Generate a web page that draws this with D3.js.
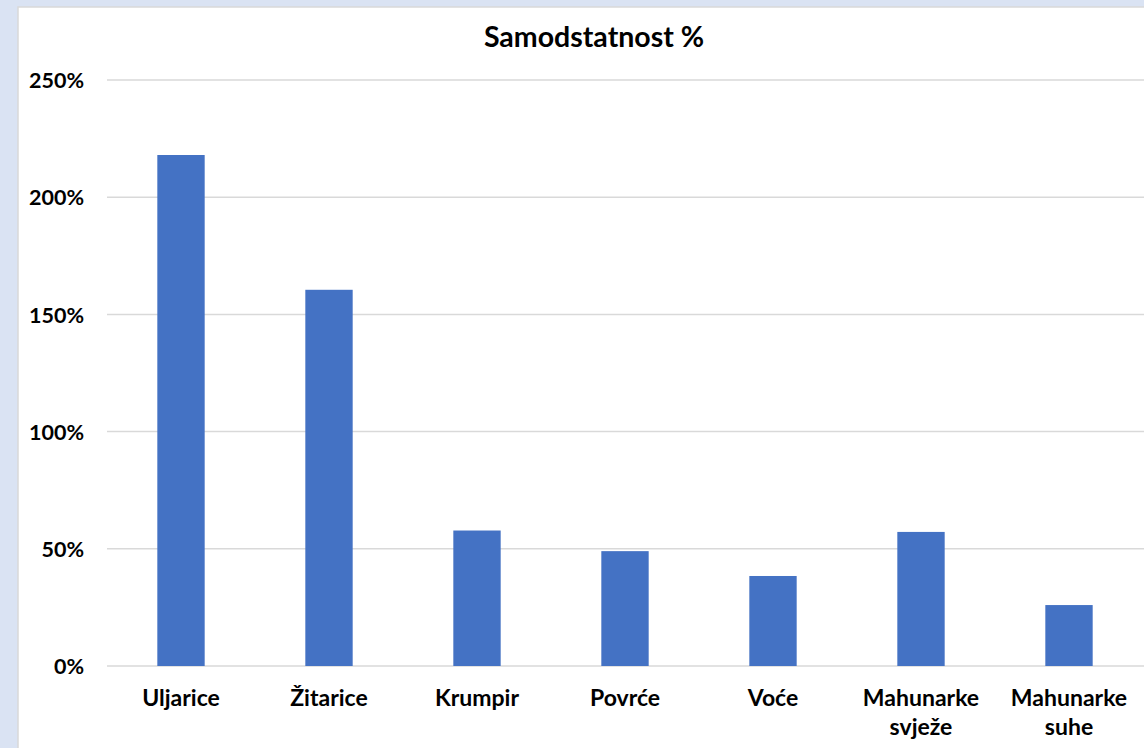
<!DOCTYPE html>
<html><head><meta charset="utf-8">
<script src="https://cdn.jsdelivr.net/npm/d3@7"></script>
<style>html,body{margin:0;padding:0;background:#dae3f3;overflow:hidden}</style>
</head><body>
<svg id="c" width="1144" height="748"></svg>
<script>
const categories = [["Uljarice"],["Žitarice"],["Krumpir"],["Povrće"],["Voće"],["Mahunarke","svježe"],["Mahunarke","suhe"]];
const values = [2.18, 1.605, 0.578, 0.49, 0.384, 0.572, 0.26];
const ticks = [0, 0.5, 1, 1.5, 2, 2.5];
const title = "Samodstatnost %";

const svg = d3.select("#c");
const font = "Lato, 'Open Sans', sans-serif";
svg.append("rect").attr("x",18).attr("y",7).attr("width",1140).attr("height",760)
  .attr("fill","#fff").attr("stroke","#d9d9d9").attr("stroke-width",1.5);

const x = d3.scaleBand().domain(categories.map((d,i)=>i)).range([107,1143]).paddingInner(0.68).paddingOuter(0.34);
const y = d3.scaleLinear().domain([0,2.5]).range([666,80]);

const g = svg.append("g");
g.selectAll("line.grid").data(ticks).join("line")
  .attr("x1",107).attr("x2",1144).attr("y1",d=>y(d)).attr("y2",d=>y(d))
  .attr("stroke","#d9d9d9").attr("stroke-width",1.5);

g.selectAll("rect.bar").data(values).join("rect")
  .attr("x",(d,i)=>x(i)).attr("width",x.bandwidth())
  .attr("y",d=>y(d)).attr("height",d=>y(0)-y(d)).attr("fill","#4472c4");

const yAxis = d3.axisLeft(y).tickValues(ticks).tickFormat(d=>Math.round(d*100)+"%").tickSize(0).tickPadding(0);
const ya = svg.append("g").attr("transform","translate(84,0)").call(yAxis);
ya.select(".domain").remove();
ya.selectAll("text").attr("font-family",font).attr("font-weight","bold").attr("font-size",21.5).attr("fill","#000").attr("dy","0.36em");

const xl = svg.append("g");
categories.forEach((lines,i)=>{
  const cx = x(i)+x.bandwidth()/2;
  const t = xl.append("text").attr("text-anchor","middle").attr("font-family",font)
    .attr("font-weight","bold").attr("font-size",23).attr("fill","#000");
  lines.forEach((l,j)=>t.append("tspan").attr("x",cx).attr("y",706+j*29).text(l));
});

svg.append("text").attr("x",594).attr("y",47).attr("text-anchor","middle")
  .attr("font-family",font).attr("font-weight","bold").attr("font-size",28.5).attr("fill","#000").text(title);
</script>
</body></html>
